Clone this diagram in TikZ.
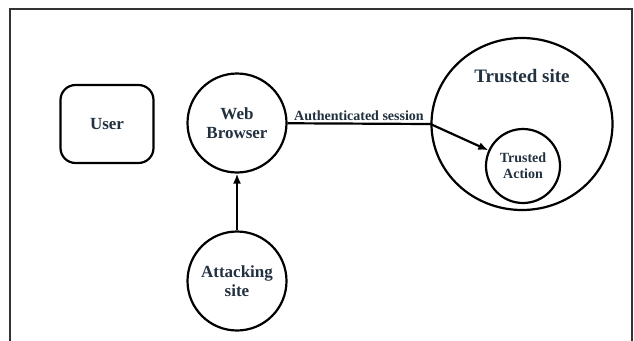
\documentclass[tikz,border=0pt]{standalone}
\usepackage{fontspec}
\setmainfont{Liberation Serif}
\usetikzlibrary{shapes.geometric, arrows.meta}
\definecolor{labelcol}{HTML}{22313F}

\begin{document}
\begin{tikzpicture}[x=1pt, y=-1pt, line width=2.2pt,
    every node/.style={text=labelcol, align=center},
    bubble/.style={draw, circle, inner sep=0pt, font=\fontsize{17}{19}\selectfont\bfseries},
    tip/.style={-{Latex[length=10pt, width=8pt]}},
    ]
  \useasboundingbox (0,0) rectangle (634,340);
  \draw[line width=2pt, black!80] (10,345) -- (10,9) -- (632,9) -- (632,345); % frame

  \node[draw, rounded corners=15pt, minimum width=93pt, minimum height=78pt,
        font=\fontsize{17}{19}\selectfont\bfseries] (user) at (107,124) {User};
  \node[bubble, minimum size=99pt] (browser) at (237,123) {Web\\Browser};
  \node[bubble, minimum size=99pt] (attack) at (237,281) {Attacking\\site};

  \node[draw, ellipse, inner sep=0pt, minimum width=181pt, minimum height=172pt] (trusted) at (522,124) {};
  \node[font=\fontsize{19}{21}\selectfont\bfseries] (tlabel) at (522,76) {Trusted site};
  \node[bubble, minimum size=74pt, font=\fontsize{14}{16}\selectfont\bfseries] (action) at (523,166) {Trusted\\Action};

  \draw[tip] (attack) -- (browser);
  \draw[tip] (browser) -- node[above, inner sep=2pt, font=\fontsize{14}{16}\selectfont\bfseries] (session) {Authenticated session}
             (trusted.west) -- (action);
\end{tikzpicture}
\end{document}
